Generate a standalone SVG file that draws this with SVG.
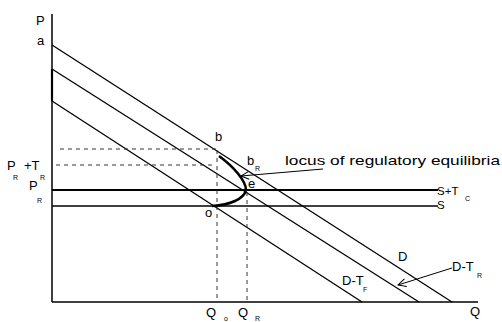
<svg xmlns="http://www.w3.org/2000/svg" width="502" height="322" viewBox="0 0 502 322">
<style>
text{font-family:"Liberation Sans",Arial,sans-serif;fill:#000}
.t{font-size:13px}
.m{font-size:11.5px}
.s{font-size:7px}
.ln{stroke:#000;fill:none;stroke-width:1.3}
.dash{stroke:#333;stroke-width:1;stroke-dasharray:4 4;fill:none}
</style>
<defs>
<marker id="open" markerWidth="10" markerHeight="10" refX="9" refY="5" orient="auto" markerUnits="userSpaceOnUse">
<path d="M1,1 L9,5 L1,9" fill="none" stroke="#000" stroke-width="1"/>
</marker>
</defs>
<g id="axes">
<line x1="52" y1="14" x2="52" y2="302" stroke="#000" stroke-width="1.5"/>
<line x1="52" y1="69" x2="52" y2="101" stroke="#000" stroke-width="2.2"/>
<line x1="52" y1="302" x2="478" y2="302" stroke="#000" stroke-width="1.5"/>
<text class="t" x="36" y="25">P</text>
<text class="t" x="470" y="316">Q</text>
<text class="t" x="37" y="45">a</text>
</g>
<g id="connectors">
<line id="D" class="ln" x1="52" y1="45" x2="452" y2="302"/>
<line id="D-TR" class="ln" x1="52" y1="69" x2="419" y2="302"/>
<line id="D-TF" class="ln" x1="52" y1="101" x2="362" y2="302"/>
<line id="S-TC" x1="52" y1="190" x2="438" y2="190" stroke="#000" stroke-width="2"/>
<line id="S" x1="52" y1="206" x2="438" y2="206" stroke="#000" stroke-width="1.5"/>
<line class="dash" x1="60" y1="149" x2="217" y2="149"/>
<line class="dash" x1="56" y1="165" x2="213" y2="165"/>
<line class="dash" x1="217" y1="150" x2="217" y2="300"/>
<line class="dash" x1="247" y1="192" x2="247" y2="300"/>
<path id="locus" d="M219,156 C234,167 246,181 246,190 C244,199 230,205 212,206" fill="none" stroke="#000" stroke-width="2.6"/>
<line x1="323" y1="169" x2="241" y2="176" stroke="#000" stroke-width="1" marker-end="url(#open)"/>
<line x1="452" y1="268" x2="398" y2="285" stroke="#000" stroke-width="1" marker-end="url(#open)"/>
</g>
<g id="labels">
<text class="t" x="215" y="141">b</text>
<text class="t" x="247" y="165">b</text><text class="s" x="255" y="171">R</text>
<text class="t" x="248" y="188">e</text>
<text class="t" x="205" y="217">o</text>
<text class="t" x="285" y="165" textLength="215" lengthAdjust="spacingAndGlyphs">locus of regulatory equilibria</text>
<text class="t" x="7" y="170">P</text><text class="s" x="13" y="180">R</text>
<text class="t" x="24" y="170">+T</text><text class="s" x="40" y="180">R</text>
<text class="t" x="29" y="190">P</text><text class="s" x="37" y="203">R</text>
<text class="m" x="437" y="195">S+T</text><text class="s" x="465" y="201">C</text>
<text class="m" x="437" y="209">S</text>
<text class="t" x="398" y="261">D</text>
<text class="t" x="452" y="271">D-T</text><text class="s" x="477" y="278">R</text>
<text class="t" x="342" y="285">D-T</text><text class="s" x="363" y="292">F</text>
<text class="t" x="206" y="317">Q</text><text class="s" x="224" y="321">o</text>
<text class="t" x="238" y="317">Q</text><text class="s" x="255" y="321">R</text>
</g>
</svg>
